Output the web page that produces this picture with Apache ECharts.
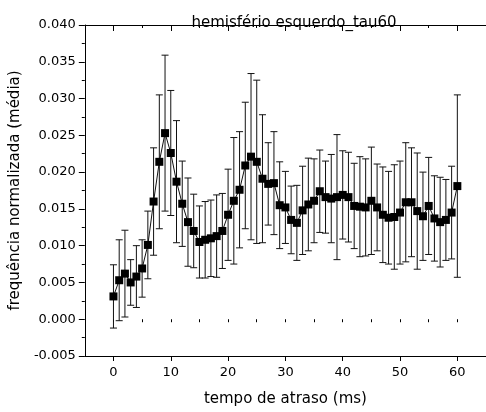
<!DOCTYPE html>
<html>
<head>
<meta charset="utf-8">
<script src="https://cdn.jsdelivr.net/npm/echarts@6/dist/echarts.min.js"></script>
<style>
  html, body { margin: 0; padding: 0; background: #fff; }
  #chart { width: 486px; height: 412px; }
</style>
</head>
<body>
<div id="chart"></div>
<script>
// Delay (ms) for each averaged point
const delays = [
  0, 1, 2, 3, 4, 5, 6, 7, 8, 9,
  10, 11, 12, 13, 14, 15, 16, 17, 18, 19,
  20, 21, 22, 23, 24, 25, 26, 27, 28, 29,
  30, 31, 32, 33, 34, 35, 36, 37, 38, 39,
  40, 41, 42, 43, 44, 45, 46, 47, 48, 49,
  50, 51, 52, 53, 54, 55, 56, 57, 58, 59,
  60
];

// Mean normalized frequency
const means = [
  0.0031, 0.0053, 0.0062, 0.0050, 0.0058, 0.0069, 0.0101, 0.0160, 0.0214, 0.0253,
  0.0226, 0.0187, 0.0157, 0.0132, 0.0120, 0.0105, 0.0108, 0.0110, 0.0113, 0.0120,
  0.0142, 0.0161, 0.0176, 0.0209, 0.0221, 0.0214, 0.0191, 0.0184, 0.0185, 0.0155,
  0.0152, 0.0135, 0.0131, 0.0148, 0.0156, 0.0161, 0.0174, 0.0166, 0.0164, 0.0166,
  0.0169, 0.0166, 0.0154, 0.0153, 0.0152, 0.0161, 0.0152, 0.0142, 0.0138, 0.0139,
  0.0145, 0.0159, 0.0159, 0.0147, 0.0140, 0.0154, 0.0137, 0.0132, 0.0135, 0.0145,
  0.0181
];

// Standard deviation (symmetric error bars)
const deviations = [
  0.0043, 0.0055, 0.0059, 0.0031, 0.0042, 0.0039, 0.0046, 0.0073, 0.0091, 0.0106,
  0.0085, 0.0083, 0.0058, 0.0060, 0.0050, 0.0049, 0.0052, 0.0052, 0.0056, 0.0051,
  0.0062, 0.0086, 0.0079, 0.0086, 0.0113, 0.0111, 0.0087, 0.0056, 0.0070, 0.0059,
  0.0049, 0.0046, 0.0051, 0.0060, 0.0063, 0.0057, 0.0056, 0.0049, 0.0060, 0.0085,
  0.0060, 0.0061, 0.0058, 0.0068, 0.0066, 0.0073, 0.0059, 0.0065, 0.0063, 0.0071,
  0.0070, 0.0081, 0.0074, 0.0079, 0.0060, 0.0066, 0.0058, 0.0061, 0.0055, 0.0063,
  0.0124
];

// Labelled x ticks
const xMajorTicks = [0, 10, 20, 30, 40, 50, 60];

const chartTitle = 'hemisfério esquerdo_tau60';
const xAxisName = 'tempo de atraso (ms)';
const yAxisName = 'frequência normalizada (média)';

const FONT = 'DejaVu Sans';
const INK = '#000';

const points = delays.map((d, i) => [d, means[i]]);
const errorBars = delays.map((d, i) => [d, means[i] - deviations[i], means[i] + deviations[i]]);

const X_MIN = -5, X_MAX = 65;

function bareXAxis(extra) {
  return Object.assign({
    type: 'value',
    min: X_MIN,
    max: X_MAX,
    gridIndex: 0,
    splitLine: { show: false },
    axisLabel: { show: false },
    axisLine: { show: false },
    axisTick: { show: false }
  }, extra);
}

const chart = echarts.init(document.getElementById('chart'), null, { renderer: 'canvas' });

chart.setOption({
  animation: false,
  backgroundColor: '#fff',
  title: {
    text: chartTitle,
    left: 289,
    top: 11,
    textAlign: 'center',
    textStyle: { fontFamily: FONT, fontSize: 15, fontWeight: 'normal', color: INK }
  },
  grid: { left: 84, top: 25, width: 411.5, height: 334 },
  xAxis: [
    // bottom axis: line, labels and long ticks
    bareXAxis({
      position: 'bottom',
      name: xAxisName,
      nameLocation: 'middle',
      nameGap: 36,
      nameTextStyle: { fontFamily: FONT, fontSize: 15, color: INK },
      axisLine: { show: true, onZero: false, lineStyle: { color: INK, width: 1 } },
      axisTick: { show: true, inside: false, length: 5, customValues: xMajorTicks, lineStyle: { color: INK } },
      axisLabel: { show: true, customValues: xMajorTicks, margin: 10, fontFamily: FONT, fontSize: 13, color: INK }
    }),
    // bottom axis: short ticks every 5 ms
    bareXAxis({
      position: 'bottom',
      interval: 5,
      axisTick: { show: true, inside: false, length: 3, lineStyle: { color: INK } }
    }),
    // top frame line with inward long ticks
    bareXAxis({
      position: 'top',
      axisLine: { show: true, onZero: false, lineStyle: { color: INK, width: 1 } },
      axisTick: { show: true, inside: true, length: 6, customValues: xMajorTicks, lineStyle: { color: INK } }
    }),
    // top frame: short inward ticks every 5 ms
    bareXAxis({
      position: 'top',
      interval: 5,
      axisTick: { show: true, inside: true, length: 3, lineStyle: { color: INK } }
    })
  ],
  yAxis: {
    type: 'value',
    min: -0.005,
    max: 0.040,
    interval: 0.005,
    name: yAxisName,
    nameLocation: 'middle',
    nameGap: 50,
    nameTextStyle: { fontFamily: FONT, fontSize: 15, color: INK },
    axisLine: { show: true, onZero: false, lineStyle: { color: INK, width: 1 } },
    axisTick: { show: true, inside: false, length: 6, lineStyle: { color: INK } },
    minorTick: { show: true, splitNumber: 2, length: 3, lineStyle: { color: INK } },
    splitLine: { show: false },
    axisLabel: {
      margin: 9,
      fontFamily: FONT,
      fontSize: 13,
      color: INK,
      formatter: v => v.toFixed(3)
    }
  },
  series: [
    {
      type: 'custom',
      name: 'desvio',
      xAxisIndex: 0,
      yAxisIndex: 0,
      z: 1,
      data: errorBars,
      encode: { x: 0, y: [1, 2] },
      renderItem: function (params, api) {
        const x = api.value(0);
        const lo = api.coord([x, api.value(1)]);
        const hi = api.coord([x, api.value(2)]);
        const cap = 3.5;
        const style = { stroke: '#111', lineWidth: 1 };
        return {
          type: 'group',
          children: [
            { type: 'line', shape: { x1: hi[0], y1: hi[1], x2: lo[0], y2: lo[1] }, style: style },
            { type: 'line', shape: { x1: hi[0] - cap, y1: hi[1], x2: hi[0] + cap, y2: hi[1] }, style: style },
            { type: 'line', shape: { x1: lo[0] - cap, y1: lo[1], x2: lo[0] + cap, y2: lo[1] }, style: style }
          ]
        };
      }
    },
    {
      type: 'line',
      name: 'média',
      xAxisIndex: 0,
      yAxisIndex: 0,
      z: 2,
      data: points,
      symbol: 'rect',
      symbolSize: 8,
      showAllSymbol: true,
      itemStyle: { color: INK },
      lineStyle: { color: '#111', width: 1 }
    }
  ]
});
</script>
</body>
</html>
